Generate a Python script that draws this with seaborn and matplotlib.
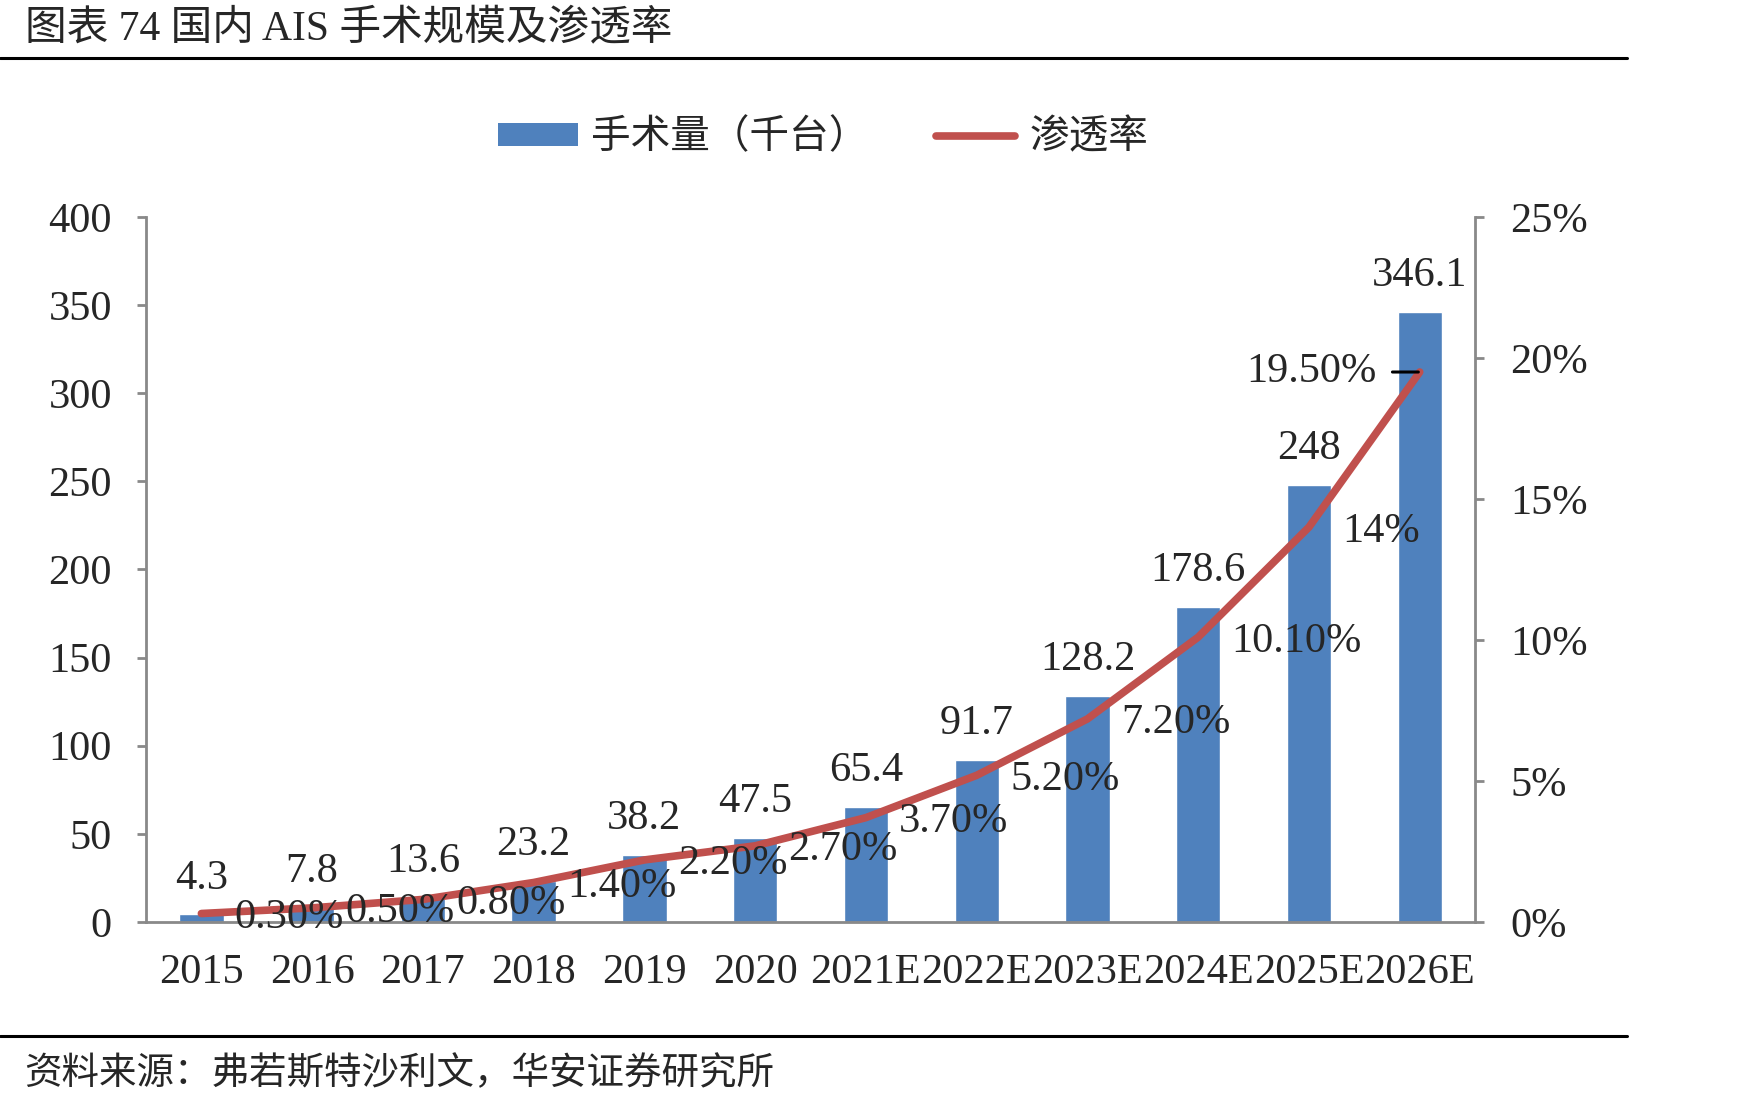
import numpy as np
import pandas as pd
import matplotlib
matplotlib.use("Agg")
import matplotlib.pyplot as plt
from matplotlib.lines import Line2D
from matplotlib.patches import Patch
import seaborn as sns

years = ["2015", "2016", "2017", "2018", "2019", "2020",
         "2021E", "2022E", "2023E", "2024E", "2025E", "2026E"]
volume = [4.3, 7.8, 13.6, 23.2, 38.2, 47.5, 65.4, 91.7, 128.2, 178.6, 248, 346.1]
volume_labels = ["4.3", "7.8", "13.6", "23.2", "38.2", "47.5", "65.4", "91.7",
                 "128.2", "178.6", "248", "346.1"]
rate = [0.003, 0.005, 0.008, 0.014, 0.022, 0.027, 0.037, 0.052, 0.072, 0.101, 0.14, 0.195]
rate_labels = ["0.30%", "0.50%", "0.80%", "1.40%", "2.20%", "2.70%", "3.70%",
               "5.20%", "7.20%", "10.10%", "14%", "19.50%"]
y_ticks = [0, 50, 100, 150, 200, 250, 300, 350, 400]
r_ticks = [0, 0.05, 0.10, 0.15, 0.20, 0.25]
r_tick_labels = ["0%", "5%", "10%", "15%", "20%", "25%"]

BLUE = "#4F81BD"
RED = "#C0504D"
GRAY = "#898989"
FS = 30.5

sns.set_style("white")
plt.rcParams["font.family"] = ["Liberation Serif", "Noto Sans CJK SC"]
plt.rcParams["axes.unicode_minus"] = False

df = pd.DataFrame({"year": years, "volume": volume, "rate": rate})
df["pos"] = range(len(df))

fig = plt.figure(figsize=(17.59, 11.01), dpi=100)
ax = fig.add_axes([0.083, 0.1626, 0.7556, 0.6404])
ax2 = ax.twinx()

sns.barplot(data=df, x="year", y="volume", color=BLUE, saturation=1,
            width=0.4, ax=ax)
sns.lineplot(data=df, x="pos", y="rate", color=RED, lw=5.5, ax=ax2,
             solid_capstyle="round", solid_joinstyle="round")

n = len(years)
ax.set_xlim(-0.5, n - 0.5)
ax2.set_xlim(-0.5, n - 0.5)
ax.set_ylim(0, 400)
ax2.set_ylim(0, 0.25)

# category boundary ticks + centred labels
ax.set_xticks(np.arange(-0.5, n, 1))
ax.set_xticklabels([])
ax.set_xticks(range(n), minor=True)
ax.set_xticklabels(years, minor=True)
ax.tick_params(axis="x", which="major", length=6.5, width=2, color=GRAY)
ax.tick_params(axis="x", which="minor", length=0, pad=23, labelsize=FS)

ax.set_yticks(y_ticks)
ax.tick_params(axis="y", length=6.5, width=2, color=GRAY, pad=18, labelsize=FS)
ax2.set_yticks(r_ticks)
ax2.set_yticklabels(r_tick_labels)
ax2.tick_params(axis="y", length=6.5, width=2, color=GRAY, pad=19, labelsize=FS)

ax.set_xlabel("")
ax.set_ylabel("")
ax2.set_xlabel("")
ax2.set_ylabel("")

for s in ["top", "right"]:
    ax.spines[s].set_visible(False)
for s in ["left", "bottom"]:
    ax.spines[s].set_color(GRAY)
    ax.spines[s].set_linewidth(2)
for s in ["top", "left", "bottom"]:
    ax2.spines[s].set_visible(False)
ax2.spines["right"].set_color(GRAY)
ax2.spines["right"].set_linewidth(2)

# bar value labels
for i, v in enumerate(volume):
    ax.annotate(volume_labels[i], (i, v), xytext=(0, 26),
                textcoords="offset points", ha="center", va="center", fontsize=FS)

# rate labels
for i, r in enumerate(rate):
    if i == n - 1:
        ax2.annotate(rate_labels[i], (i, r), xytext=(-31, 0),
                     textcoords="offset points", ha="right", va="center", fontsize=FS,
                     arrowprops=dict(arrowstyle="-", color="black", lw=2.2,
                                     shrinkA=9, shrinkB=1))
    else:
        ax2.annotate(rate_labels[i], (i, r), xytext=(24, -3),
                     textcoords="offset points", ha="left", va="center", fontsize=FS)

handles = [Patch(facecolor=BLUE, edgecolor="none"),
           Line2D([0], [0], color=RED, lw=5.5)]
fig.legend(handles, ["手术量（千台）", "渗透率"], loc="center",
           bbox_to_anchor=(0.468, 0.874), ncol=2, frameon=False,
           fontsize=28.5, handlelength=2.0, handleheight=0.5,
           handletextpad=0.35, columnspacing=1.7)

fig.text(0.014, 0.9725, "图表 74 国内 AIS 手术规模及渗透率", fontsize=30,
         ha="left", va="center")
fig.text(0.014, 0.024, "资料来源：弗若斯特沙利文，华安证券研究所", fontsize=27,
         ha="left", va="center")
fig.add_artist(Line2D([0, 0.925], [0.947, 0.947], color="black", lw=2.2,
                      transform=fig.transFigure))
fig.add_artist(Line2D([0, 0.925], [0.059, 0.059], color="black", lw=2.2,
                      transform=fig.transFigure))

fig.savefig("out.png", dpi=100)
